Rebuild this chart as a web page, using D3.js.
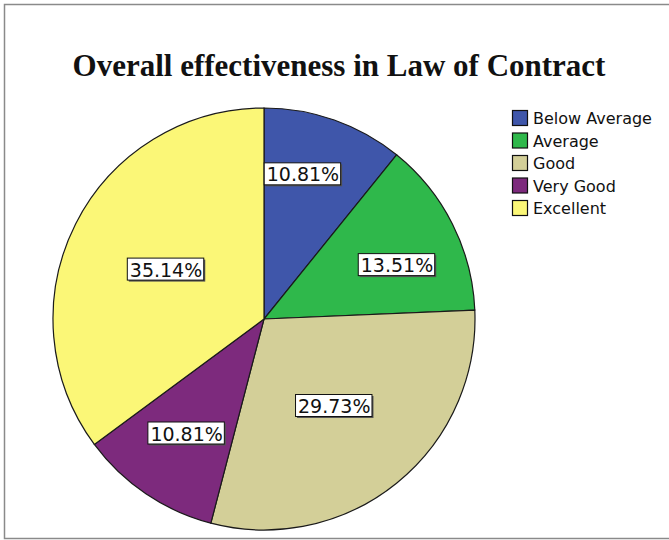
<!DOCTYPE html>
<html>
<head>
<meta charset="utf-8">
<script src="https://cdn.jsdelivr.net/npm/d3@7"></script>
<style>
  body { margin: 0; background: #fff; }
</style>
</head>
<body>
<div id="canvas"></div>
<script>
"use strict"

/* Data (counts, 37 respondents) */
let categories = ["Below Average", "Average", "Good", "Very Good", "Excellent"];
let counts = [4, 5, 11, 4, 13];
let colors = ["#3f56aa", "#2fb84b", "#d3cf98", "#7d2a7d", "#fbf777"];

/* Drawing configuration */
let svgWidth = 669;
let svgHeight = 540;
let cx = 264;
let cy = 319;
let radius = 211;

/* label placement: fraction of radius and small angle nudge (degrees) */
let labelRadius = [0.71, 0.68, 0.53, 0.655, 0.52];
let labelNudge = [-4.4, 4.7, 0, 0, 0];

let svg = d3.select("#canvas")
    .append("svg")
    .attr("width", svgWidth)
    .attr("height", svgHeight);

/* outer frame */
svg.append("rect")
    .attr("x", 4.5)
    .attr("y", 4.5)
    .attr("width", svgWidth + 10)
    .attr("height", 534)
    .attr("fill", "none")
    .attr("stroke", "#8a8a8a")
    .attr("stroke-width", 1.5);

/* title */
svg.append("text")
    .attr("x", 339)
    .attr("y", 76)
    .attr("text-anchor", "middle")
    .attr("font-family", "Liberation Serif, Times New Roman, serif")
    .attr("font-weight", "bold")
    .attr("font-size", 31)
    .attr("fill", "#111")
    .text("Overall effectiveness in Law of Contract");

let total = d3.sum(counts);

let pie = d3.pie()
    .sort(null)
    .value(function (d) { return d; });

let arcs = pie(counts);

let arc = d3.arc()
    .innerRadius(0)
    .outerRadius(radius);

let g = svg.append("g")
    .attr("transform", "translate(" + cx + "," + cy + ")");

g.selectAll("path")
    .data(arcs)
    .join("path")
    .attr("d", arc)
    .attr("fill", function (d, i) { return colors[i]; })
    .attr("stroke", "#1a1a1a")
    .attr("stroke-width", 1.2);

/* percentage labels in boxes */
let labels = g.selectAll("g.lbl")
    .data(arcs)
    .join("g")
    .attr("class", "lbl")
    .attr("transform", function (d, i) {
        let a = (d.startAngle + d.endAngle) / 2 + labelNudge[i] * Math.PI / 180;
        let r = radius * labelRadius[i];
        return "translate(" + (r * Math.sin(a)) + "," + (-r * Math.cos(a)) + ")";
    });

labels.each(function (d) {
    let lg = d3.select(this);
    let txt = (d.value / total * 100).toFixed(2) + "%";
    let t = lg.append("text")
        .attr("text-anchor", "middle")
        .attr("dominant-baseline", "central")
        .attr("font-family", "DejaVu Sans, sans-serif")
        .attr("font-size", 19)
        .attr("fill", "#111")
        .text(txt);
    let bb = t.node().getBBox();
    /* shadow */
    lg.insert("rect", "text")
        .attr("x", bb.x - 1)
        .attr("y", -10)
        .attr("width", bb.width + 4)
        .attr("height", 22)
        .attr("fill", "#555");
    lg.insert("rect", "text")
        .attr("x", bb.x - 2.5)
        .attr("y", -11.5)
        .attr("width", bb.width + 4)
        .attr("height", 22)
        .attr("fill", "#fff")
        .attr("stroke", "#111")
        .attr("stroke-width", 1);
});

/* legend */
let legend = svg.append("g")
    .attr("transform", "translate(512,110)");

let rows = legend.selectAll("g")
    .data(categories)
    .join("g")
    .attr("transform", function (d, i) { return "translate(0," + (i * 22.5) + ")"; });

rows.append("rect")
    .attr("x", 0.5)
    .attr("y", 0.5)
    .attr("width", 15)
    .attr("height", 15)
    .attr("fill", function (d, i) { return colors[i]; })
    .attr("stroke", "#111")
    .attr("stroke-width", 1.2);

rows.append("text")
    .attr("x", 21)
    .attr("y", 8.5)
    .attr("dominant-baseline", "central")
    .attr("font-family", "DejaVu Sans, sans-serif")
    .attr("font-size", 16)
    .attr("fill", "#111")
    .text(function (d) { return d; });
</script>
</body>
</html>
